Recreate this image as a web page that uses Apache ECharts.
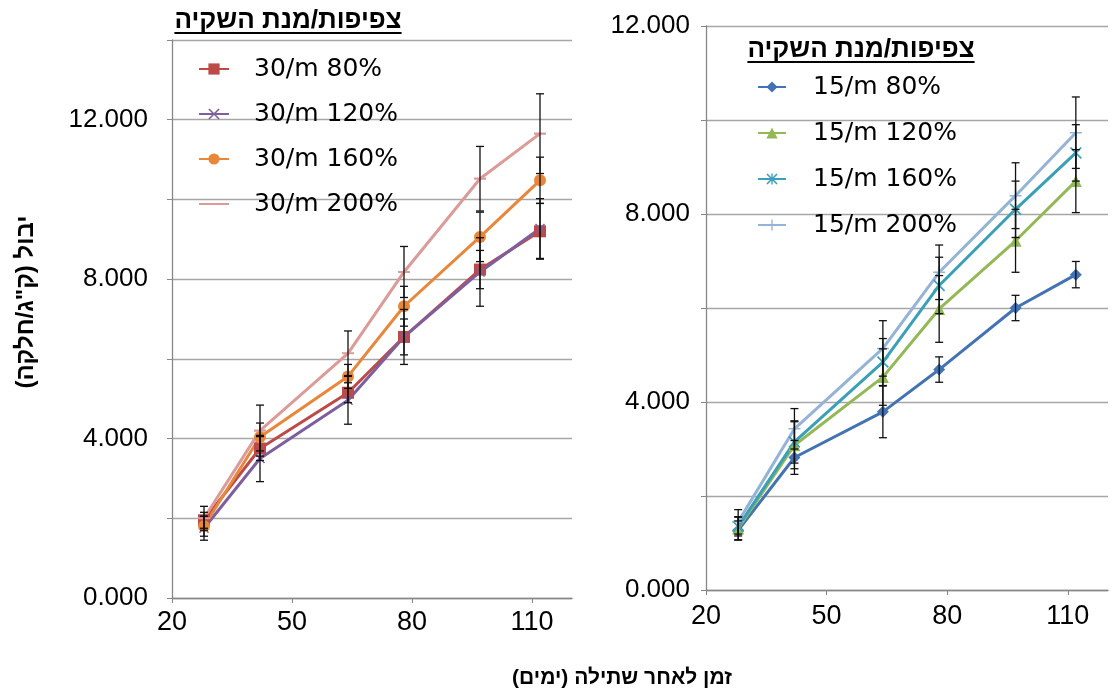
<!DOCTYPE html>
<html>
<head>
<meta charset="utf-8">
<script src="https://cdn.jsdelivr.net/npm/echarts@6/dist/echarts.min.js"></script>
<style>
  html, body { margin: 0; padding: 0; background: #fff; }
  #chart { width: 1112px; height: 693px; }
</style>
</head>
<body>
<div id="chart"></div>
<script>
// Days after planting (shared by both panels)
const days = [28, 42, 64, 78, 97, 112];
const xTicks = [20, 50, 80, 110];
const yTicks = [0, 4, 8, 12];

// Density 30/m — yield (kg/plot) per irrigation rate, with error
const y30_80  = [1.95, 3.75, 5.15, 6.55, 8.24, 9.20];
const y30_120 = [1.75, 3.50, 4.96, 6.55, 8.18, 9.27];
const y30_160 = [1.80, 4.04, 5.56, 7.32, 9.06, 10.48];
const y30_200 = [2.00, 4.20, 6.14, 8.18, 10.52, 11.65];
const e30_80  = [0.20, 0.30, 0.25, 0.45, 0.48, 0.70];
const e30_120 = [0.30, 0.58, 0.60, 0.69, 0.86, 0.75];
const e30_160 = [0.25, 0.35, 0.30, 0.50, 0.62, 0.58];
const e30_200 = [0.30, 0.64, 0.56, 0.64, 0.81, 1.00];

// Density 15/m
const y15_80  = [1.27, 2.82, 3.79, 4.69, 6.00, 6.71];
const y15_120 = [1.31, 3.08, 4.53, 5.98, 7.43, 8.70];
const y15_160 = [1.35, 3.15, 4.85, 6.48, 8.10, 9.30];
const y15_200 = [1.45, 3.43, 5.14, 6.76, 8.39, 9.73];
const e15_80  = [0.20, 0.36, 0.55, 0.27, 0.27, 0.28];
const e15_120 = [0.25, 0.50, 0.60, 0.71, 0.67, 0.67];
const e15_160 = [0.20, 0.45, 0.50, 0.60, 0.60, 0.60];
const e15_200 = [0.26, 0.43, 0.59, 0.58, 0.70, 0.76];

const names30 = ['30/m 80%', '30/m 120%', '30/m 160%', '30/m 200%'];
const names15 = ['15/m 80%', '15/m 120%', '15/m 160%', '15/m 200%'];

const RLM = '\u200F';
const legendTitle = 'צפיפות/מנת השקיה';
const yTitle = 'יבול (ק"ג/חלקה)' + RLM;
const xTitle = 'זמן לאחר שתילה (ימים)' + RLM;

// marker shapes
const SYM_X = 'path://M0,1L1,0L5,4L9,0L10,1L6,5L10,9L9,10L5,6L1,10L0,9L4,5Z';
const SYM_PLUS = 'path://M4.4,0H5.6V4.4H10V5.6H5.6V10H4.4V5.6H0V4.4H4.4Z';
const SYM_STAR = 'path://M0,1L1,0L5,4L9,0L10,1L6,5L10,9L9,10L5,6L1,10L0,9L4,5ZM4.4,0H5.6V10H4.4Z';
// short horizontal bar; hair-thin slivers keep a square bounding box
const SYM_DASH = 'path://M0,0H10V0.01H0ZM0,4.1H10V5.9H0ZM0,9.99H10V10H0Z';

const pairs = (ys) => days.map((d, i) => [d, ys[i]]);
const errRows = (ys, es) => days.map((d, i) => [d, ys[i] - es[i], ys[i] + es[i]]);

function lineSeries(name, ys, color, symbol, size, gi) {
  return {
    type: 'line', name, data: pairs(ys),
    xAxisIndex: gi, yAxisIndex: gi,
    symbol, symbolSize: size, showSymbol: true,
    lineStyle: { color, width: 3 },
    itemStyle: { color },
    z: 3, animation: false
  };
}

function errSeries(ys, es, gi) {
  return {
    type: 'custom', xAxisIndex: gi, yAxisIndex: gi, z: 4,
    silent: true, animation: false,
    data: errRows(ys, es),
    renderItem(params, api) {
      const x = api.value(0);
      const lo = api.coord([x, api.value(1)]);
      const hi = api.coord([x, api.value(2)]);
      const c = 4;
      const st = { stroke: '#111', lineWidth: 1.3 };
      return {
        type: 'group',
        children: [
          { type: 'line', shape: { x1: lo[0], y1: lo[1], x2: hi[0], y2: hi[1] }, style: st },
          { type: 'line', shape: { x1: lo[0] - c, y1: lo[1], x2: lo[0] + c, y2: lo[1] }, style: st },
          { type: 'line', shape: { x1: hi[0] - c, y1: hi[1], x2: hi[0] + c, y2: hi[1] }, style: st }
        ]
      };
    }
  };
}

const axisGray = '#878787';
const gridGray = '#a6a6a6';
const numFont = 'Liberation Sans';

function xAx(gi) {
  return {
    type: 'value', gridIndex: gi, min: 20, max: 120, interval: 30,
    axisLine: { lineStyle: { color: axisGray, width: 1.3 } },
    axisTick: { show: true, length: 5, customValues: xTicks, lineStyle: { color: axisGray } },
    axisLabel: { customValues: xTicks, color: '#000', fontSize: 27, fontFamily: numFont, margin: gi === 0 ? 11 : 13 },
    splitLine: { show: false }
  };
}
function yAx(gi, max, margin) {
  return {
    type: 'value', gridIndex: gi, min: 0, max, interval: 2,
    axisLine: { show: true, lineStyle: { color: axisGray, width: 1.3 } },
    axisTick: { show: true, length: 5, lineStyle: { color: axisGray } },
    axisLabel: { customValues: yTicks, color: '#000', fontSize: 26, fontFamily: numFont, margin,
                 formatter: v => v.toFixed(3) },
    splitLine: { show: true, lineStyle: { color: gridGray, width: 1.3 } }
  };
}

const legendText = { fontSize: 25, fontFamily: 'DejaVu Sans', color: '#000', lineHeight: 30, padding: [0, 0, 0, 20] };

// measure title width for the underline
const headFont = 'bold 26px "Liberation Sans"';
const mctx = document.createElement('canvas').getContext('2d');
mctx.font = headFont;
const titleW = mctx.measureText(legendTitle).width;

function legendHeading(cx, cy) {
  return [
    { type: 'text', x: cx, y: cy, style: { text: legendTitle, font: headFont, fill: '#000', align: 'center', verticalAlign: 'middle' } },
    { type: 'line', shape: { x1: cx - titleW / 2, y1: cy + 12, x2: cx + titleW / 2, y2: cy + 12 }, style: { stroke: '#000', lineWidth: 1.8 } }
  ];
}

const chart = echarts.init(document.getElementById('chart'));
chart.setOption({
  animation: false,
  backgroundColor: '#fff',
  grid: [
    { left: 172, top: 40, width: 400, height: 558 },
    { left: 706, top: 26, width: 402, height: 564 }
  ],
  xAxis: [xAx(0), xAx(1)],
  yAxis: [yAx(0, 14, 24), yAx(1, 12, 16)],
  legend: [
    { data: names30, orient: 'vertical', left: 198, top: 54, itemWidth: 30, itemHeight: 14, itemGap: 15,
      padding: 0, textStyle: legendText, selectedMode: false },
    { data: names15, orient: 'vertical', left: 757, top: 72, itemWidth: 28, itemHeight: 14, itemGap: 16,
      padding: 0, textStyle: Object.assign({}, legendText, { padding: [0, 0, 0, 22] }), selectedMode: false }
  ],
  graphic: [
    ...legendHeading(288, 21),
    ...legendHeading(861, 50),
    { type: 'text', x: 26, y: 302, rotation: Math.PI / 2,
      style: { text: yTitle, font: 'bold 24px "Liberation Sans"', fill: '#000', align: 'center', verticalAlign: 'middle' } },
    { type: 'text', x: 622, y: 678,
      style: { text: xTitle, font: 'bold 21px "Liberation Sans"', fill: '#000', align: 'center', verticalAlign: 'middle' } }
  ],
  series: [
    lineSeries(names30[0], y30_80,  '#bc4a47', 'rect', 12, 0),
    lineSeries(names30[1], y30_120, '#7d5fa0', SYM_X, 10, 0),
    lineSeries(names30[2], y30_160, '#e8873a', 'circle', 12, 0),
    lineSeries(names30[3], y30_200, '#dc9a98', SYM_DASH, 12, 0),
    errSeries(y30_80, e30_80, 0),
    errSeries(y30_120, e30_120, 0),
    errSeries(y30_160, e30_160, 0),
    errSeries(y30_200, e30_200, 0),
    lineSeries(names15[0], y15_80,  '#4373b3', 'diamond', 12, 1),
    lineSeries(names15[1], y15_120, '#94b855', 'triangle', 12, 1),
    lineSeries(names15[2], y15_160, '#3aa0b8', SYM_STAR, 12, 1),
    lineSeries(names15[3], y15_200, '#95b3d7', SYM_PLUS, 12, 1),
    errSeries(y15_80, e15_80, 1),
    errSeries(y15_120, e15_120, 1),
    errSeries(y15_160, e15_160, 1),
    errSeries(y15_200, e15_200, 1)
  ]
});
</script>
</body>
</html>
